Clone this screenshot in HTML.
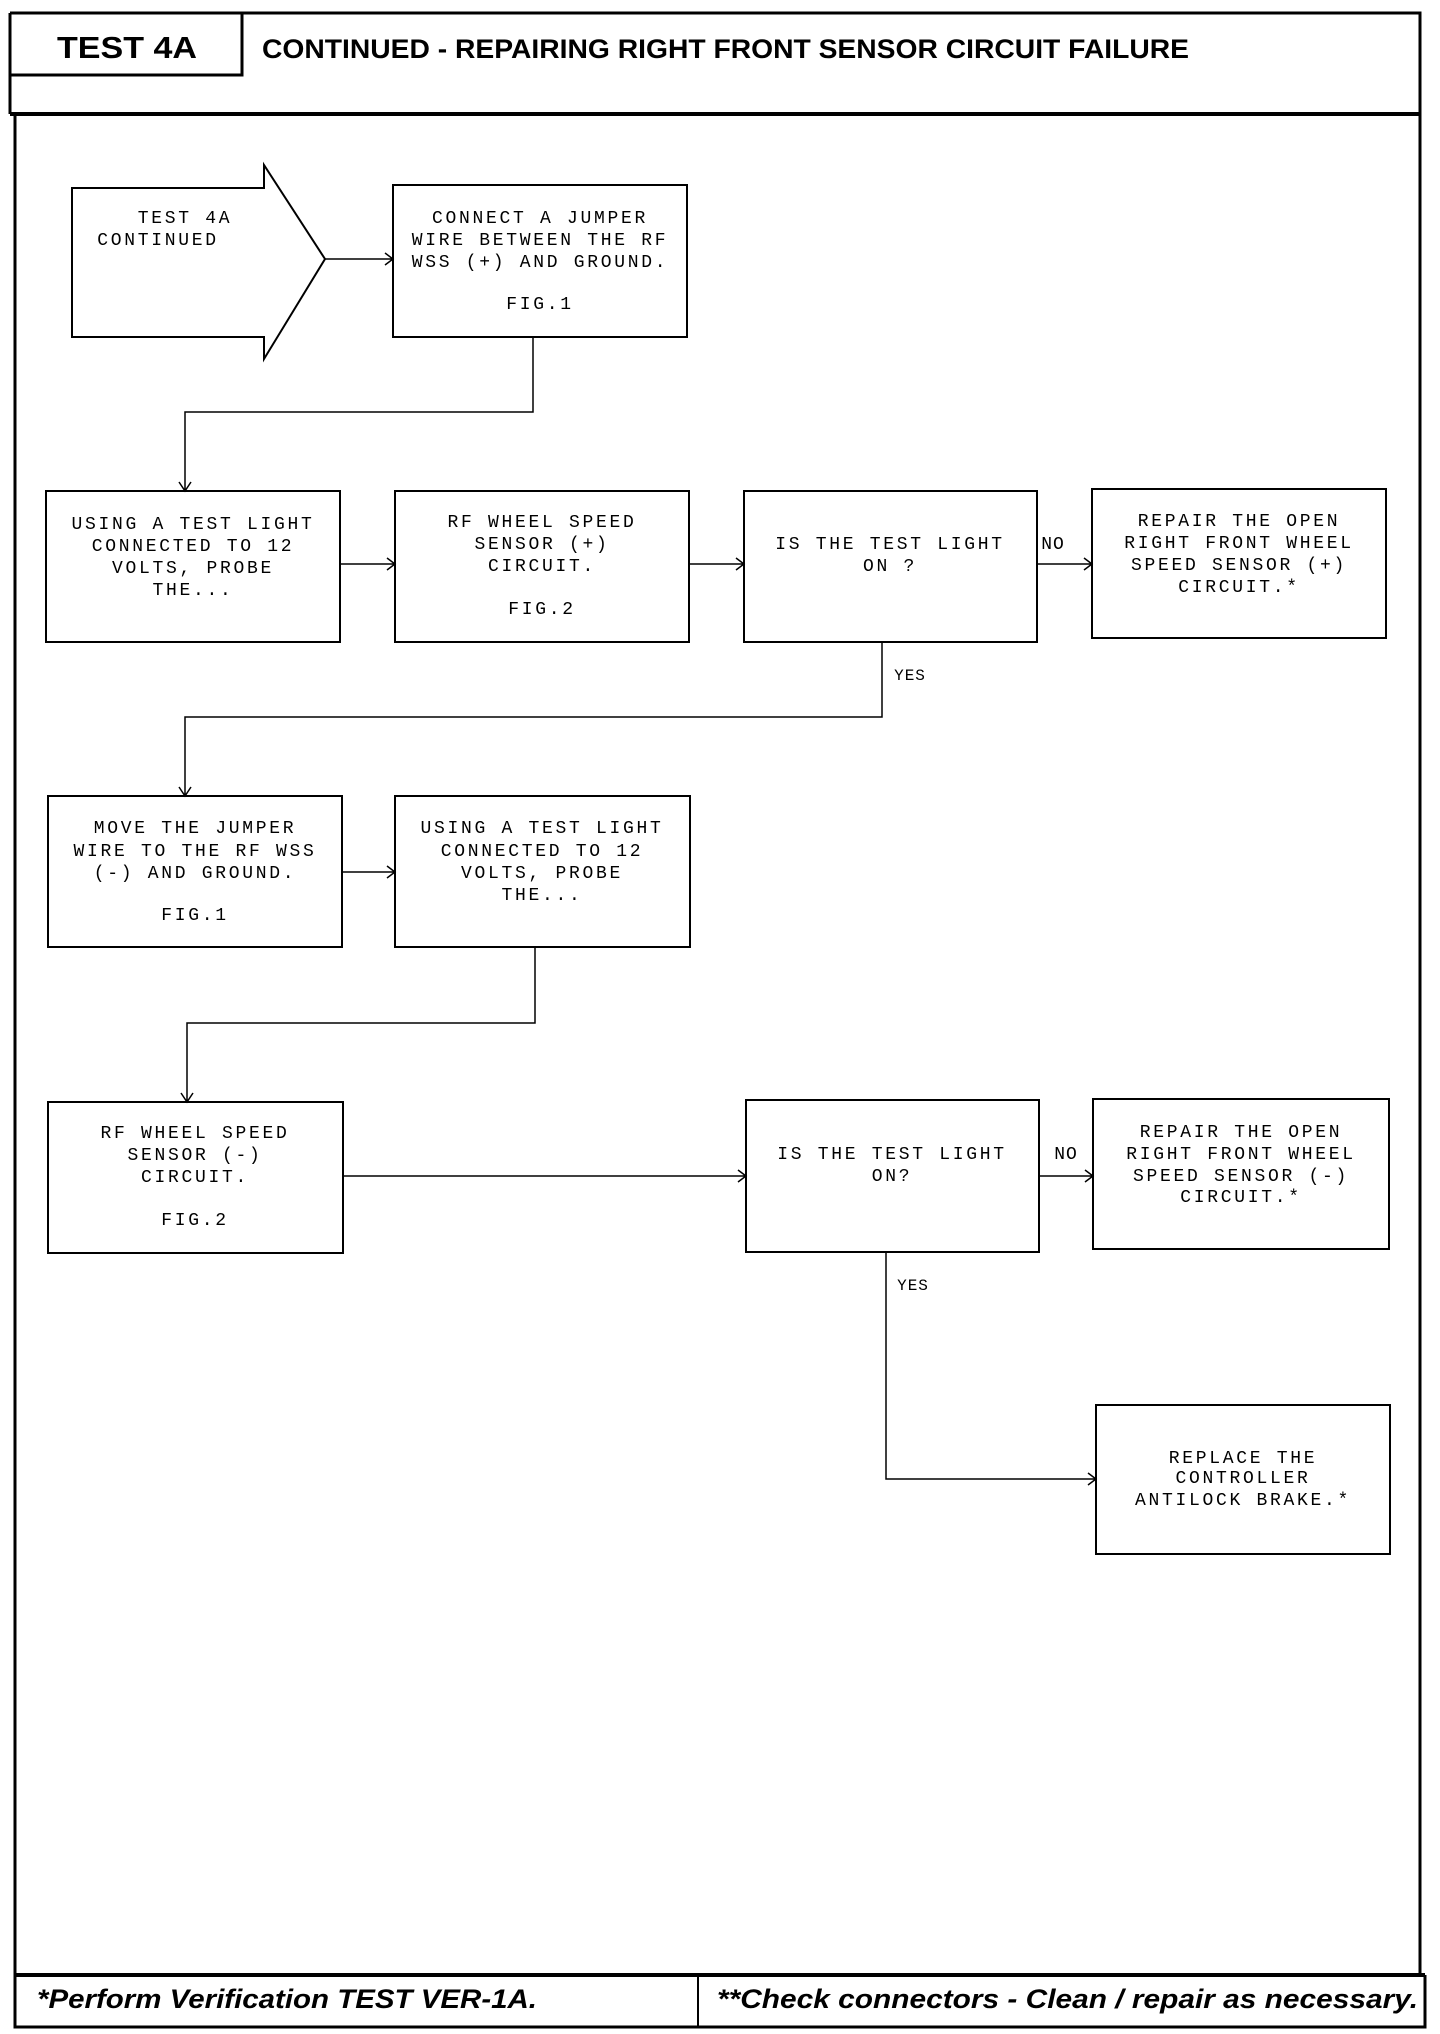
<!DOCTYPE html>
<html><head><meta charset="utf-8"><style>
html,body{margin:0;padding:0;background:#fff;}
svg{display:block;}
.m{font-family:"Liberation Mono",monospace;font-size:18px;letter-spacing:2.7px;fill:#000;text-anchor:middle;}
.b{fill:none;stroke:#000;stroke-width:2;}
.l{fill:none;stroke:#000;stroke-width:1.5;}
</style></head><body>
<svg width="1440" height="2034" viewBox="0 0 1440 2034" xmlns="http://www.w3.org/2000/svg">
<!-- frame -->
<path d="M10 13 H1420 V1975" class="b" stroke-width="3" style="stroke-width:3"/>
<path d="M10 13 V114" style="fill:none;stroke:#000;stroke-width:3"/>
<path d="M15 114 V2027 H1425 V1975" style="fill:none;stroke:#000;stroke-width:3"/>
<line x1="10" y1="114" x2="1420" y2="114" style="stroke:#000;stroke-width:4"/>
<path d="M10 75 H242 V13" style="fill:none;stroke:#000;stroke-width:3"/>
<text x="57" y="58" font-family="Liberation Sans, sans-serif" font-weight="bold" font-size="31" textLength="140" lengthAdjust="spacingAndGlyphs">TEST 4A</text>
<text x="262" y="58" font-family="Liberation Sans, sans-serif" font-weight="bold" font-size="27" textLength="927" lengthAdjust="spacingAndGlyphs">CONTINUED - REPAIRING RIGHT FRONT SENSOR CIRCUIT FAILURE</text>
<!-- footer -->
<line x1="15" y1="1975" x2="1425" y2="1975" style="stroke:#000;stroke-width:4"/>
<line x1="698" y1="1975" x2="698" y2="2027" style="stroke:#000;stroke-width:2"/>
<text x="37" y="2008" font-family="Liberation Sans, sans-serif" font-weight="bold" font-style="italic" font-size="27" textLength="500" lengthAdjust="spacingAndGlyphs">*Perform Verification TEST VER-1A.</text>
<text x="717" y="2008" font-family="Liberation Sans, sans-serif" font-weight="bold" font-style="italic" font-size="27" textLength="701" lengthAdjust="spacingAndGlyphs">**Check connectors - Clean / repair as necessary.</text>

<!-- start arrow shape -->
<polygon points="72,188 264,188 264,165 325,259 264,359 264,337 72,337" class="b"/>
<text class="m" x="185" y="223">TEST 4A</text>
<text class="m" x="158" y="245">CONTINUED</text>

<!-- boxes -->
<rect x="393" y="185" width="294" height="152" class="b"/>
<text class="m" x="540" y="223">CONNECT A JUMPER</text>
<text class="m" x="540" y="245">WIRE BETWEEN THE RF</text>
<text class="m" x="540" y="267">WSS (+) AND GROUND.</text>
<text class="m" x="540" y="309">FIG.1</text>

<rect x="46" y="491" width="294" height="151" class="b"/>
<text class="m" x="193" y="529">USING A TEST LIGHT</text>
<text class="m" x="193" y="551">CONNECTED TO 12</text>
<text class="m" x="193" y="573">VOLTS, PROBE</text>
<text class="m" x="193" y="595">THE...</text>

<rect x="395" y="491" width="294" height="151" class="b"/>
<text class="m" x="542" y="527">RF WHEEL SPEED</text>
<text class="m" x="542" y="549">SENSOR (+)</text>
<text class="m" x="542" y="571">CIRCUIT.</text>
<text class="m" x="542" y="614">FIG.2</text>

<rect x="744" y="491" width="293" height="151" class="b"/>
<text class="m" x="890" y="549">IS THE TEST LIGHT</text>
<text class="m" x="890" y="571">ON ?</text>

<rect x="1092" y="489" width="294" height="149" class="b"/>
<text class="m" x="1239" y="526">REPAIR THE OPEN</text>
<text class="m" x="1239" y="548">RIGHT FRONT WHEEL</text>
<text class="m" x="1239" y="570">SPEED SENSOR (+)</text>
<text class="m" x="1239" y="592">CIRCUIT.*</text>

<rect x="48" y="796" width="294" height="151" class="b"/>
<text class="m" x="195" y="833">MOVE THE JUMPER</text>
<text class="m" x="195" y="856">WIRE TO THE RF WSS</text>
<text class="m" x="195" y="878">(-) AND GROUND.</text>
<text class="m" x="195" y="920">FIG.1</text>

<rect x="395" y="796" width="295" height="151" class="b"/>
<text class="m" x="542" y="833">USING A TEST LIGHT</text>
<text class="m" x="542" y="856">CONNECTED TO 12</text>
<text class="m" x="542" y="878">VOLTS, PROBE</text>
<text class="m" x="542" y="900">THE...</text>

<rect x="48" y="1102" width="295" height="151" class="b"/>
<text class="m" x="195" y="1138">RF WHEEL SPEED</text>
<text class="m" x="195" y="1160">SENSOR (-)</text>
<text class="m" x="195" y="1182">CIRCUIT.</text>
<text class="m" x="195" y="1225">FIG.2</text>

<rect x="746" y="1100" width="293" height="152" class="b"/>
<text class="m" x="892" y="1159">IS THE TEST LIGHT</text>
<text class="m" x="892" y="1181">ON?</text>

<rect x="1093" y="1099" width="296" height="150" class="b"/>
<text class="m" x="1241" y="1137">REPAIR THE OPEN</text>
<text class="m" x="1241" y="1159">RIGHT FRONT WHEEL</text>
<text class="m" x="1241" y="1181">SPEED SENSOR (-)</text>
<text class="m" x="1241" y="1202">CIRCUIT.*</text>

<rect x="1096" y="1405" width="294" height="149" class="b"/>
<text class="m" x="1243" y="1463">REPLACE THE</text>
<text class="m" x="1243" y="1483">CONTROLLER</text>
<text class="m" x="1243" y="1505">ANTILOCK BRAKE.*</text>

<!-- connectors -->
<path class="l" d="M325 259 H393 M385 253 L393 259 L385 265"/>
<path class="l" d="M533 337 V412 H185 V491 M179 482 L185 491 L191 482"/>
<path class="l" d="M340 564 H395 M387 558 L395 564 L387 570"/>
<path class="l" d="M689 564 H744 M736 558 L744 564 L736 570"/>
<path class="l" d="M1037 564 H1092 M1084 558 L1092 564 L1084 570"/>
<text class="m" x="1053" y="549" style="letter-spacing:1px">NO</text>
<path class="l" d="M882 642 V717 H185 V796 M179 787 L185 796 L191 787"/>
<text class="m" x="910" y="680" style="font-size:16px;letter-spacing:1px">YES</text>
<path class="l" d="M342 872 H395 M387 866 L395 872 L387 878"/>
<path class="l" d="M535 947 V1023 H187 V1102 M181 1093 L187 1102 L193 1093"/>
<path class="l" d="M343 1176 H746 M738 1170 L746 1176 L738 1182"/>
<path class="l" d="M1039 1176 H1093 M1085 1170 L1093 1176 L1085 1182"/>
<text class="m" x="1066" y="1159" style="letter-spacing:1px">NO</text>
<path class="l" d="M886 1252 V1479 H1096 M1088 1473 L1096 1479 L1088 1485"/>
<text class="m" x="913" y="1290" style="font-size:16px;letter-spacing:1px">YES</text>
</svg>
</body></html>
